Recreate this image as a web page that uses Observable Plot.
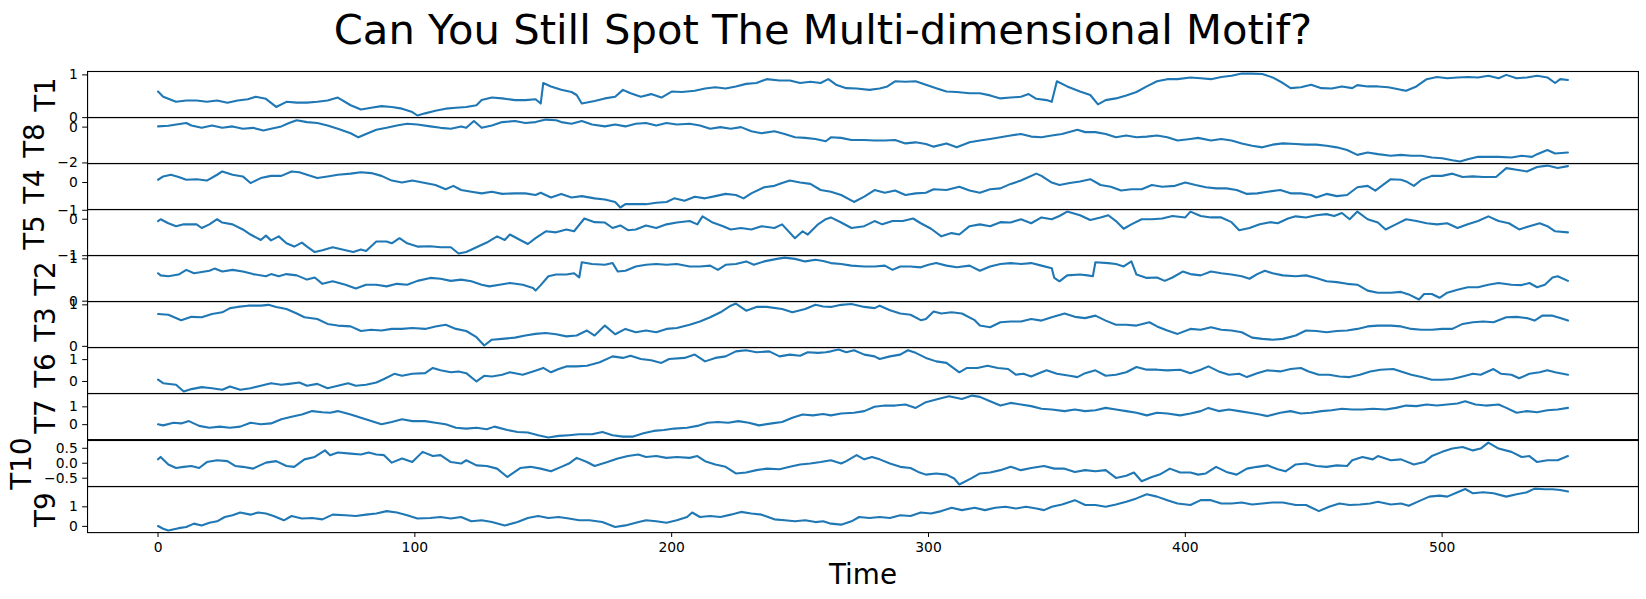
<!DOCTYPE html>
<html>
<head>
<meta charset="utf-8">
<script src="https://cdn.jsdelivr.net/npm/d3@7"></script>
<script src="https://cdn.jsdelivr.net/npm/@observablehq/plot@0.6"></script>
<style>
  html, body { margin: 0; padding: 0; background: #fff; }
  #chart { position: relative; width: 1646px; height: 599px; overflow: hidden; font-family: "DejaVu Sans", sans-serif; }
  #title { position: absolute; left: 0; width: 1646px; top: 5px; text-align: center; font-size: 41.7px; color: #000; white-space: nowrap; }
</style>
</head>
<body>
<div id="chart"><div id="title"></div></div>
<script>
const title = "Can You Still Spot The Multi-dimensional Motif?";
const xLabel = "Time";
const seriesNames = ["T1", "T8", "T4", "T5", "T2", "T3", "T6", "T7", "T10", "T9"];
const xTicks = [0, 100, 200, 300, 400, 500];

// [time, value] samples
const T1 = [[0,.61],[2,.49],[7,.37],[11,.40],[15,.40],[19,.37],[23,.40],[27,.35],[31,.40],[35,.43],[38,.49],[42,.44],[46,.25],[50,.37],[54,.35],[58,.35],[62,.37],[66,.40],[70,.47],[75,.29],[79,.19],[83,.23],[87,.27],[91,.25],[95,.21],[99,.13],[101,.05],[104,.10],[108,.16],[112,.21],[116,.23],[120,.25],[124,.29],[126,.41],[130,.47],[134,.45],[139,.41],[143,.41],[147,.43],[149,.33],[150,.81],[153,.73],[157,.65],[161,.60],[163,.53],[165,.33],[170,.39],[174,.45],[178,.49],[181,.65],[184,.57],[188,.49],[192,.55],[196,.47],[200,.61],[204,.60],[209,.63],[213,.68],[217,.71],[221,.68],[225,.73],[229,.79],[233,.81],[237,.90],[242,.87],[246,.87],[250,.81],[254,.84],[258,.81],[261,.90],[264,.77],[268,.69],[272,.68],[277,.65],[281,.68],[284,.73],[287,.85],[291,.84],[295,.85],[299,.77],[303,.69],[307,.61],[311,.60],[316,.57],[320,.57],[324,.52],[328,.45],[332,.47],[336,.49],[339,.55],[342,.44],[346,.41],[348,.37],[350,.85],[354,.73],[359,.61],[363,.53],[366,.31],[369,.41],[373,.45],[377,.52],[381,.60],[385,.73],[389,.85],[393,.90],[397,.90],[402,.94],[406,.92],[410,.90],[414,.95],[418,.98],[422,1.03],[426,1.03],[430,1.02],[434,.94],[438,.81],[441,.69],[445,.71],[449,.77],[453,.69],[457,.68],[461,.73],[465,.69],[467,.76],[471,.73],[475,.73],[479,.71],[484,.65],[486,.63],[490,.73],[494,.90],[498,.95],[502,.92],[506,.94],[510,.95],[514,.94],[518,.98],[522,.92],[525,1.00],[529,.92],[533,.94],[537,.98],[541,.94],[544,.81],[546,.90],[549,.88]];
const T8 = [[0,.04],[4,.08],[9,.19],[11,.23],[13,.09],[17,-.04],[21,.09],[25,-.04],[29,.04],[33,-.09],[37,-.04],[41,-.19],[44,-.09],[48,.04],[51,.23],[54,.38],[58,.28],[62,.23],[66,.09],[70,-.09],[75,-.34],[78,-.57],[81,-.38],[85,-.15],[89,-.04],[93,.09],[97,.19],[101,.15],[106,.04],[110,-.04],[114,-.09],[118,.04],[120,-.04],[123,.34],[126,-.04],[130,.09],[134,.28],[139,.34],[143,.23],[147,.28],[151,.42],[155,.38],[157,.28],[161,.19],[165,.34],[169,.15],[174,.04],[178,.15],[182,.04],[186,.19],[190,.23],[194,.09],[198,.23],[202,.15],[207,.19],[211,.09],[215,-.09],[219,0],[223,-.09],[227,0],[231,-.23],[235,-.34],[240,-.23],[244,-.38],[248,-.57],[252,-.60],[256,-.66],[260,-.79],[262,-.57],[266,-.60],[270,-.72],[275,-.72],[279,-.75],[283,-.75],[287,-.72],[291,-.91],[295,-.85],[299,-.94],[302,-1.09],[307,-.91],[311,-1.13],[316,-.85],[320,-.75],[324,-.66],[328,-.57],[332,-.47],[336,-.38],[340,-.53],[344,-.57],[348,-.47],[352,-.38],[358,-.15],[361,-.28],[365,-.28],[369,-.38],[373,-.57],[377,-.47],[381,-.57],[385,-.53],[389,-.47],[393,-.57],[397,-.75],[402,-.66],[405,-.60],[410,-.75],[414,-.66],[418,-.75],[422,-.91],[426,-1.04],[430,-1.13],[434,-.98],[438,-.91],[443,-.94],[447,-.98],[451,-.98],[455,-1.04],[459,-1.13],[463,-1.28],[467,-1.55],[471,-1.42],[475,-1.51],[480,-1.60],[484,-1.55],[488,-1.60],[492,-1.60],[496,-1.70],[500,-1.74],[504,-1.85],[507,-1.92],[510,-1.79],[514,-1.66],[518,-1.66],[522,-1.66],[527,-1.70],[531,-1.60],[535,-1.66],[537,-1.51],[541,-1.28],[544,-1.47],[549,-1.42]];
const T4 = [[0,.10],[2,.22],[5,.28],[8,.20],[11,.10],[15,.12],[19,.07],[23,.28],[25,.40],[29,.28],[33,.22],[36,-.02],[40,.16],[44,.24],[48,.24],[52,.40],[55,.37],[58,.28],[62,.16],[66,.22],[70,.28],[75,.32],[79,.37],[83,.34],[87,.24],[91,.07],[95,0],[99,.07],[104,-.02],[108,-.09],[112,-.24],[115,-.12],[118,-.27],[122,-.33],[126,-.39],[130,-.33],[134,-.41],[139,-.39],[143,-.39],[147,-.45],[149,-.37],[153,-.54],[157,-.41],[161,-.54],[165,-.49],[170,-.57],[174,-.61],[178,-.70],[180,-.90],[182,-.78],[186,-.78],[190,-.78],[194,-.73],[198,-.70],[201,-.57],[205,-.66],[209,-.51],[213,-.57],[217,-.49],[221,-.41],[225,-.45],[228,-.57],[231,-.39],[236,-.17],[240,-.12],[243,-.02],[246,.07],[250,0],[254,-.05],[258,-.27],[262,-.33],[266,-.45],[271,-.70],[275,-.51],[279,-.27],[283,-.37],[287,-.29],[291,-.45],[295,-.39],[299,-.37],[302,-.24],[307,-.27],[312,-.15],[316,-.29],[320,-.37],[324,-.24],[328,-.21],[332,-.05],[336,.07],[342,.32],[344,.24],[348,0],[351,-.09],[355,-.02],[359,.04],[363,.12],[367,-.09],[371,-.15],[375,-.29],[379,-.24],[383,-.24],[387,-.09],[391,-.15],[396,-.12],[400,0],[404,-.09],[408,-.17],[412,-.21],[416,-.21],[420,-.27],[424,-.41],[428,-.39],[432,-.33],[437,-.27],[441,-.39],[445,-.39],[449,-.45],[451,-.54],[455,-.41],[459,-.49],[463,-.45],[467,-.17],[471,-.12],[474,-.29],[480,.12],[484,.10],[486,.04],[489,-.12],[492,.10],[496,.24],[500,.24],[504,.32],[508,.20],[512,.22],[516,.20],[521,.20],[525,.52],[529,.46],[533,.40],[537,.56],[541,.61],[545,.52],[549,.59]];
const T5 = [[0,-.05],[1,0],[4,-.11],[7,-.19],[10,-.14],[13,-.14],[15,-.14],[17,-.24],[20,-.14],[23,0],[25,-.09],[29,-.14],[33,-.28],[36,-.42],[40,-.57],[42,-.45],[44,-.58],[47,-.47],[50,-.66],[53,-.75],[56,-.64],[58,-.75],[61,-.90],[64,-.85],[68,-.77],[73,-.85],[76,-.90],[79,-.83],[81,-.87],[85,-.61],[89,-.61],[91,-.66],[94,-.52],[97,-.66],[101,-.75],[106,-.74],[110,-.77],[114,-.77],[117,-.94],[120,-.90],[124,-.77],[128,-.64],[132,-.47],[135,-.57],[137,-.42],[141,-.57],[144,-.68],[147,-.52],[151,-.33],[155,-.36],[159,-.28],[162,-.33],[166,.02],[170,-.08],[174,-.09],[177,-.24],[180,-.17],[183,-.30],[186,-.28],[190,-.17],[194,-.24],[198,-.14],[202,-.09],[207,-.05],[210,-.14],[212,.08],[216,-.09],[220,-.19],[223,-.28],[227,-.24],[231,-.28],[235,-.19],[240,-.24],[243,-.14],[248,-.52],[251,-.33],[253,-.42],[257,-.14],[260,0],[262,.05],[266,-.09],[270,-.24],[275,-.19],[279,-.05],[282,-.14],[286,-.05],[290,-.05],[294,.02],[297,-.11],[301,-.26],[305,-.47],[309,-.38],[312,-.42],[316,-.19],[320,-.14],[324,-.19],[328,-.08],[332,-.09],[336,0],[340,-.11],[344,.05],[348,0],[351,.09],[354,.21],[359,.11],[363,-.02],[367,.05],[370,.11],[373,-.05],[376,-.26],[379,-.14],[383,0],[387,0],[391,.02],[395,.09],[400,.05],[402,.21],[406,.09],[410,.05],[414,.05],[418,-.08],[421,-.30],[425,-.24],[429,-.14],[433,-.08],[436,-.11],[440,.02],[443,.08],[447,.05],[451,.11],[455,.14],[458,.09],[461,.17],[464,0],[467,.21],[471,0],[475,-.09],[478,-.28],[482,-.14],[486,0],[490,-.05],[494,-.11],[498,-.14],[502,-.11],[506,-.24],[510,-.14],[514,-.05],[518,.08],[522,-.05],[526,-.11],[530,-.28],[534,-.19],[538,-.11],[541,-.19],[544,-.33],[549,-.36]];
const T2 = [[0,.66],[1,.61],[4,.59],[8,.63],[11,.74],[14,.66],[17,.69],[20,.72],[22,.77],[25,.70],[29,.74],[33,.70],[37,.64],[42,.59],[44,.64],[47,.59],[50,.64],[54,.61],[58,.51],[61,.56],[64,.41],[68,.47],[73,.39],[77,.30],[81,.39],[85,.39],[89,.35],[93,.41],[97,.39],[101,.48],[106,.55],[110,.53],[114,.48],[118,.51],[122,.47],[126,.39],[129,.35],[133,.39],[137,.43],[142,.39],[146,.31],[147,.25],[149,.38],[152,.59],[155,.63],[159,.63],[162,.66],[164,.56],[165,.92],[169,.88],[174,.86],[177,.90],[179,.70],[182,.72],[186,.82],[190,.86],[194,.88],[198,.86],[202,.88],[207,.82],[211,.82],[215,.84],[218,.74],[221,.86],[225,.88],[229,.94],[232,.86],[236,.94],[241,1.0],[244,1.03],[248,1.0],[252,.94],[256,.98],[259,.95],[262,.90],[266,.88],[270,.84],[275,.82],[279,.82],[283,.84],[286,.74],[289,.82],[293,.82],[297,.80],[300,.86],[303,.90],[307,.84],[311,.80],[316,.84],[320,.72],[324,.82],[328,.88],[332,.90],[336,.88],[340,.90],[344,.84],[348,.78],[349,.55],[351,.47],[354,.61],[359,.63],[362,.61],[364,.59],[365,.92],[370,.90],[373,.88],[376,.82],[379,.94],[381,.63],[385,.55],[389,.56],[392,.48],[395,.56],[399,.70],[402,.64],[406,.61],[410,.70],[414,.66],[418,.63],[422,.59],[425,.53],[428,.64],[431,.72],[434,.66],[438,.61],[443,.59],[447,.61],[451,.55],[455,.47],[459,.45],[463,.41],[467,.39],[471,.25],[475,.20],[480,.20],[484,.22],[487,.16],[491,.04],[493,.17],[496,.17],[499,.08],[502,.20],[506,.27],[510,.33],[514,.33],[518,.39],[522,.43],[527,.39],[531,.38],[534,.43],[537,.33],[540,.39],[543,.56],[545,.59],[549,.48]];
const T3 = [[0,.78],[4,.76],[9,.63],[13,.71],[17,.70],[21,.78],[25,.82],[28,.92],[31,.95],[35,.98],[40,.98],[43,1.0],[46,.95],[50,.90],[54,.79],[57,.70],[62,.66],[66,.54],[70,.50],[75,.48],[79,.37],[83,.40],[87,.38],[91,.42],[95,.42],[99,.44],[104,.42],[108,.48],[112,.52],[116,.42],[120,.37],[124,.22],[127,.02],[130,.16],[134,.18],[139,.21],[143,.26],[147,.30],[151,.32],[155,.29],[159,.24],[163,.26],[167,.38],[170,.26],[174,.50],[178,.29],[182,.42],[186,.34],[190,.38],[194,.34],[198,.42],[202,.44],[207,.52],[211,.60],[215,.70],[219,.82],[223,.98],[225,1.03],[229,.86],[233,.95],[237,.95],[243,.90],[247,.82],[252,.90],[256,1.0],[259,.96],[262,.95],[266,1.0],[270,1.02],[275,.95],[279,.92],[281,.98],[285,.87],[289,.79],[293,.76],[297,.63],[299,.66],[302,.84],[305,.79],[309,.82],[313,.79],[318,.63],[320,.50],[324,.46],[328,.58],[332,.60],[336,.60],[340,.66],[344,.62],[348,.70],[353,.79],[357,.71],[361,.68],[365,.74],[369,.62],[373,.52],[377,.52],[381,.50],[386,.58],[389,.48],[393,.38],[397,.30],[402,.42],[406,.40],[410,.46],[414,.40],[418,.38],[422,.34],[426,.21],[430,.18],[434,.16],[438,.18],[443,.26],[447,.38],[451,.37],[455,.34],[459,.37],[463,.38],[467,.42],[471,.48],[475,.50],[480,.50],[484,.48],[488,.42],[492,.40],[496,.40],[500,.42],[504,.42],[508,.54],[512,.58],[516,.60],[520,.58],[525,.70],[529,.71],[533,.68],[536,.62],[539,.74],[543,.74],[546,.68],[549,.62]];
const T6 = [[0,.08],[2,-.08],[7,-.15],[10,-.46],[13,-.35],[17,-.26],[21,-.31],[25,-.38],[28,-.23],[32,-.38],[36,-.31],[40,-.20],[44,-.08],[48,-.15],[51,-.11],[55,-.05],[58,-.20],[62,-.11],[66,-.31],[70,-.20],[74,-.08],[77,-.20],[81,-.15],[85,-.05],[88,.11],[92,.35],[95,.26],[99,.35],[104,.38],[107,.62],[110,.51],[114,.42],[117,.46],[120,.38],[124,0],[127,.26],[130,.23],[134,.31],[137,.42],[142,.31],[146,.46],[150,.62],[153,.42],[156,.57],[159,.69],[163,.69],[167,.72],[172,.88],[177,1.15],[181,1.08],[184,1.18],[188,1.03],[192,.97],[196,.85],[199,1.03],[205,1.08],[209,1.23],[213,.92],[217,1.08],[221,1.15],[225,1.38],[229,1.43],[233,1.34],[238,1.38],[242,1.15],[246,1.23],[250,1.18],[253,1.34],[257,1.31],[260,1.34],[262,1.38],[265,1.46],[268,1.34],[271,1.43],[275,1.23],[279,1.15],[281,1.03],[285,1.15],[289,1.23],[292,1.43],[295,1.31],[299,1.08],[303,.92],[307,.85],[312,.42],[315,.62],[319,.62],[323,.72],[327,.62],[331,.57],[334,.31],[337,.35],[340,.23],[343,.38],[346,.51],[350,.35],[355,.26],[358,.20],[361,.38],[365,.51],[369,.26],[373,.31],[377,.42],[381,.66],[385,.54],[389,.54],[393,.51],[398,.54],[402,.38],[406,.54],[409,.69],[413,.46],[417,.31],[421,.35],[424,.20],[428,.38],[432,.51],[437,.46],[441,.57],[445,.62],[448,.46],[452,.31],[456,.31],[460,.23],[464,.20],[468,.31],[472,.46],[476,.54],[481,.57],[484,.46],[488,.31],[492,.20],[496,.08],[500,.08],[504,.11],[508,.23],[512,.35],[515,.31],[520,.57],[523,.35],[527,.31],[530,.15],[534,.35],[538,.42],[541,.51],[544,.42],[549,.31]];
const T7 = [[0,.02],[2,-.04],[6,.11],[9,.07],[12,.20],[16,-.07],[20,-.17],[24,-.11],[28,-.17],[32,-.11],[36,.11],[40,.02],[44,.07],[48,.30],[52,.44],[56,.57],[60,.76],[64,.70],[67,.67],[70,.76],[75,.57],[79,.39],[83,.20],[87,.02],[91,.15],[95,.30],[99,.20],[104,.20],[108,.11],[112,.02],[116,-.17],[120,-.22],[124,-.17],[128,-.26],[131,-.11],[136,-.30],[140,-.41],[144,-.44],[148,-.59],[152,-.72],[156,-.63],[160,-.59],[164,-.54],[169,-.54],[173,-.41],[177,-.59],[181,-.67],[185,-.67],[189,-.48],[193,-.35],[197,-.30],[201,-.22],[206,-.17],[210,-.07],[214,.11],[218,.15],[222,.11],[226,.20],[230,.11],[234,-.04],[239,.07],[243,.15],[247,.39],[251,.57],[255,.52],[259,.60],[262,.52],[266,.63],[271,.67],[275,.76],[279,1.0],[283,1.07],[287,1.07],[291,1.13],[295,.94],[299,1.26],[303,1.41],[308,1.59],[313,1.44],[317,1.63],[320,1.56],[324,1.31],[328,1.07],[332,1.22],[336,1.13],[340,1.04],[344,.89],[348,.85],[353,.76],[357,.85],[361,.76],[365,.81],[369,.94],[373,.85],[377,.76],[381,.67],[385,.52],[389,.67],[393,.63],[398,.52],[402,.63],[406,.76],[409,.94],[413,.76],[417,.85],[421,.76],[425,.67],[429,.57],[432,.48],[437,.67],[441,.76],[445,.63],[449,.67],[453,.76],[457,.81],[461,.89],[465,.85],[469,.85],[473,.89],[478,.85],[482,.94],[486,1.07],[490,1.04],[494,1.13],[498,1.07],[502,1.13],[506,1.19],[509,1.31],[513,1.13],[517,1.07],[522,1.13],[525,.94],[529,.67],[533,.76],[537,.70],[541,.81],[545,.85],[549,.94]];
const T10 = [[0,.13],[1,.21],[4,-.04],[7,-.16],[10,-.12],[13,-.09],[16,-.16],[19,.04],[23,.10],[27,.07],[30,-.09],[33,-.12],[37,-.18],[42,.02],[46,.07],[50,-.09],[53,-.12],[57,.13],[61,.21],[65,.43],[67,.27],[70,.36],[75,.32],[79,.29],[82,.36],[85,.29],[88,.27],[91,.02],[95,.16],[99,.04],[103,.38],[107,.24],[110,.27],[114,.04],[118,-.01],[120,.10],[124,-.07],[128,-.09],[132,-.18],[136,-.46],[141,-.16],[145,-.12],[149,-.18],[153,-.27],[157,-.12],[160,-.01],[163,.18],[167,.04],[170,-.09],[175,.04],[179,.16],[183,.24],[187,.29],[190,.21],[194,.24],[198,.18],[202,.21],[207,.18],[210,.24],[213,.07],[217,-.04],[221,-.12],[225,-.34],[229,-.31],[233,-.23],[237,-.18],[242,-.20],[246,-.12],[250,-.04],[254,-.01],[258,.04],[262,.10],[266,-.01],[268,.07],[272,.27],[275,.13],[278,.21],[281,.13],[285,-.01],[289,-.12],[293,-.16],[296,-.29],[299,-.38],[303,-.34],[307,-.38],[310,-.51],[312,-.71],[317,-.49],[320,-.34],[324,-.31],[328,-.23],[332,-.12],[336,-.23],[340,-.16],[345,-.09],[349,-.18],[353,-.18],[357,-.29],[361,-.23],[365,-.27],[369,-.23],[373,-.49],[377,-.42],[380,-.31],[383,-.60],[387,-.46],[390,-.38],[394,-.18],[398,-.31],[402,-.31],[405,-.38],[408,-.34],[412,-.12],[416,-.29],[420,-.38],[424,-.18],[428,-.12],[432,-.07],[436,-.20],[439,-.27],[443,-.04],[447,-.01],[451,-.09],[455,-.12],[459,-.07],[463,-.09],[465,.10],[469,.21],[473,.13],[475,.24],[480,.10],[484,.13],[489,-.04],[493,.04],[496,.24],[500,.38],[504,.49],[508,.54],[512,.43],[515,.49],[518,.69],[522,.49],[527,.38],[531,.21],[534,.24],[537,.04],[541,.10],[545,.10],[549,.24]];
const T9 = [[0,.02],[2,-.12],[4,-.21],[8,-.09],[11,-.03],[14,.14],[17,.05],[20,.19],[23,.26],[26,.48],[29,.57],[32,.71],[36,.60],[39,.71],[42,.66],[45,.53],[49,.31],[52,.53],[56,.40],[60,.43],[64,.36],[68,.60],[73,.57],[77,.53],[81,.60],[85,.66],[89,.78],[93,.71],[97,.57],[101,.40],[106,.43],[110,.48],[114,.40],[118,.48],[122,.26],[126,.31],[130,.22],[135,.05],[140,.22],[144,.43],[148,.53],[152,.43],[156,.48],[160,.40],[164,.31],[168,.31],[173,.22],[178,-.03],[182,.05],[186,.19],[190,.31],[194,.26],[198,.19],[202,.31],[206,.48],[208,.71],[211,.48],[215,.53],[219,.48],[223,.60],[227,.74],[231,.66],[235,.60],[240,.36],[244,.31],[248,.26],[252,.31],[256,.22],[259,.26],[262,.14],[266,.09],[270,.26],[273,.48],[277,.43],[281,.48],[285,.43],[289,.57],[293,.53],[297,.71],[301,.66],[305,.78],[309,.95],[313,.83],[318,.95],[322,.83],[326,.95],[330,1.0],[334,.91],[338,1.0],[342,.91],[345,.83],[348,1.0],[352,1.12],[357,1.34],[361,1.09],[365,1.09],[369,1.0],[373,1.12],[377,1.26],[381,1.43],[385,1.64],[389,1.52],[393,1.34],[397,1.17],[402,1.09],[406,1.34],[410,1.34],[414,1.17],[418,1.17],[422,1.22],[426,1.12],[430,1.17],[434,1.22],[438,1.22],[443,1.09],[447,1.09],[452,.78],[456,1.0],[460,1.17],[464,1.09],[468,1.12],[472,1.17],[475,1.26],[480,1.12],[484,1.17],[487,1.05],[491,1.29],[495,1.52],[499,1.57],[502,1.52],[506,1.74],[509,1.91],[512,1.69],[516,1.74],[520,1.69],[525,1.52],[529,1.64],[533,1.74],[536,1.93],[540,1.90],[543,1.90],[546,1.86],[549,1.78]];

// y tick values per panel
const ticksT1 = [0, 1];
const ticksT8 = [-2, 0];
const ticksT4 = [-1, 0];
const ticksT5 = [-1, 0];
const ticksT2 = [0, 1];
const ticksT3 = [0, 1];
const ticksT6 = [0, 1];
const ticksT7 = [0, 1];
const ticksT10 = [-0.5, 0, 0.5];
const ticksT9 = [0, 1];

const seriesData = [T1, T8, T4, T5, T2, T3, T6, T7, T10, T9];
const seriesTicks = [ticksT1, ticksT8, ticksT4, ticksT5, ticksT2, ticksT3, ticksT6, ticksT7, ticksT10, ticksT9];
const seriesFormats = [null, null, null, null, null, null, null, null, ".1f", null];

document.getElementById("title").textContent = title;

// layout
const W = 1646, ML = 87, MR = 8;
const panelTop = 70.7, panelH = 46.1;
const tickSize = 4.9, tickPad = 4.9, tickFont = 13.9, labelFont = 27.8;
const lineColor = "#1f77b4";

const chart = document.getElementById("chart");
const ctx = document.createElement("canvas").getContext("2d");
ctx.font = `${tickFont}px "DejaVu Sans"`;

seriesNames.forEach((name, i) => {
  const data = seriesData[i];
  const last = i === seriesNames.length - 1;
  const mt = 12, mb = last ? 70 : 12;
  const [lo, hi] = d3.extent(data, d => d[1]);
  const pad = (hi - lo) * 0.05;
  const xs = data.map(d => d[0]);
  const xPad = (d3.max(xs) - d3.min(xs)) * 0.05;
  const fmt = seriesFormats[i] ? d3.format(seriesFormats[i]) : d3.format("d");
  const tickLabelW = d3.max(seriesTicks[i], t => ctx.measureText(fmt(t)).width);
  const labelCenter = ML - tickSize - tickPad - tickLabelW - 5.6 - 6.6 - 10.2;

  const marks = [
    Plot.line(data, {x: d => d[0], y: d => d[1], stroke: lineColor, strokeWidth: 2.1}),
    Plot.frame({stroke: "black", strokeWidth: 1.1}),
    Plot.text([name], {frameAnchor: "left", textAnchor: "middle", lineAnchor: "middle", text: d => d, rotate: -90, dx: labelCenter - ML, fontSize: labelFont, fill: "black"})
  ];
  if (last) {
    marks.push(Plot.text([xLabel], {frameAnchor: "bottom", textAnchor: "middle", text: d => d, lineAnchor: "bottom", dy: 51.5, fontSize: labelFont, fill: "black"}));
  }

  const svg = Plot.plot({
    width: W,
    height: panelH + mt + mb,
    marginLeft: ML, marginRight: MR, marginTop: mt, marginBottom: mb,
    style: {fontFamily: "DejaVu Sans", fontSize: tickFont + "px", background: "transparent", overflow: "visible", color: "black"},
    x: {domain: [d3.min(xs) - xPad, d3.max(xs) + xPad], axis: last ? "bottom" : null, ticks: xTicks, tickSize, tickPadding: tickPad, label: null, tickFormat: d3.format("d")},
    y: {domain: [lo - pad, hi + pad], ticks: seriesTicks[i], tickSize, tickPadding: tickPad, tickFormat: fmt, label: null},
    marks
  });
  svg.style.position = "absolute";
  svg.style.left = "0px";
  svg.style.top = (panelTop + i * panelH - mt) + "px";
  svg.style.maxWidth = "none";
  chart.appendChild(svg);
});
</script>
</body>
</html>
